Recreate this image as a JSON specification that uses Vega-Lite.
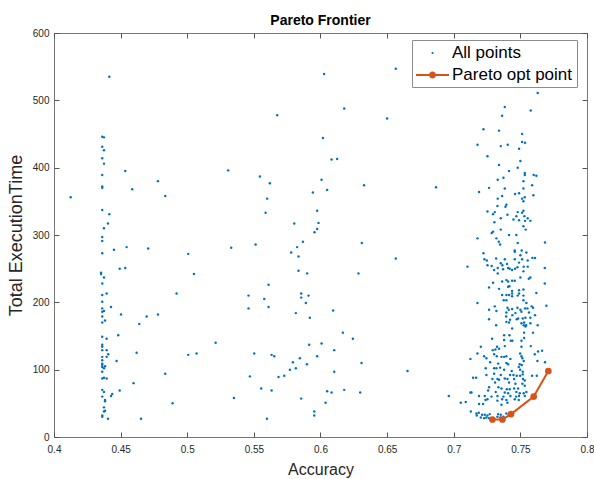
{
"$schema": "https://vega.github.io/schema/vega-lite/v6.json",
"width": 533, "height": 404,
"autosize": "none",
"padding": {"left": 54, "top": 33, "right": 7, "bottom": 42},
"background": "white",
"title": {"text": "Pareto Frontier", "fontSize": 14, "fontWeight": "bold", "font": "Liberation Sans", "color": "#000", "offset": 0, "anchor": "middle"},
"config": {
  "view": {"stroke": "#777", "strokeWidth": 1},
  "axis": {"grid": false, "domain": false, "tickSize": -5, "tickColor": "#555", "labelFont": "Liberation Sans", "labelFontSize": 10, "labelColor": "#262626", "titleFont": "Liberation Sans", "titleFontSize": 16, "titleFontWeight": "normal", "titleColor": "#262626", "labelFlush": false},
  "legend": {"orient": "none", "legendX": 358, "legendY": 7, "fillColor": "white", "strokeColor": "#8c8c8c", "padding": 4, "labelFont": "Liberation Sans", "labelFontSize": 17, "labelColor": "#000", "symbolSize": 324, "labelOffset": 18, "rowPadding": 5, "symbolStrokeWidth": 0, "symbolOpacity": 1}
},
"datasets": {
"pts": [
{"a":0.4415,"t":535},{"a":0.4362,"t":446},{"a":0.4375,"t":445},{"a":0.4362,"t":431},{"a":0.4375,"t":426},{"a":0.4362,"t":414},{"a":0.4375,"t":406},{"a":0.4362,"t":389},{"a":0.4535,"t":395},{"a":0.4362,"t":372},{"a":0.4362,"t":370},{"a":0.478,"t":380},{"a":0.4587,"t":368},{"a":0.4835,"t":358},{"a":0.4125,"t":356},{"a":0.5307,"t":396},{"a":0.4362,"t":337},{"a":0.4415,"t":331},{"a":0.4405,"t":317},{"a":0.4375,"t":310},{"a":0.4362,"t":297},{"a":0.4362,"t":291},{"a":0.4362,"t":273},{"a":0.445,"t":278},{"a":0.4545,"t":282},{"a":0.4707,"t":280},{"a":0.5007,"t":272},{"a":0.533,"t":281},
{"a":0.4493,"t":250},{"a":0.4535,"t":251},{"a":0.4353,"t":244},{"a":0.4353,"t":242},{"a":0.4375,"t":237},{"a":0.505,"t":242},{"a":0.4362,"t":228},{"a":0.4362,"t":211},{"a":0.4395,"t":213},{"a":0.492,"t":213},{"a":0.4362,"t":201},{"a":0.4362,"t":191},{"a":0.4428,"t":193},{"a":0.4362,"t":186},{"a":0.4375,"t":187},{"a":0.4503,"t":182},{"a":0.478,"t":182},{"a":0.4695,"t":179},{"a":0.4362,"t":179},{"a":0.4383,"t":173},{"a":0.4362,"t":170},{"a":0.464,"t":168},{"a":0.4362,"t":149},{"a":0.4395,"t":146},{"a":0.4482,"t":151},{"a":0.4362,"t":137},{"a":0.4362,"t":134},{"a":0.4362,"t":129},{"a":0.4395,"t":129},{"a":0.5213,"t":140},{"a":0.462,"t":125},{"a":0.5007,"t":122},{"a":0.507,"t":124},{"a":0.4407,"t":123},{"a":0.4395,"t":119},{"a":0.447,"t":113},{"a":0.4362,"t":119},{"a":0.4362,"t":114},{"a":0.4362,"t":109},{"a":0.4362,"t":107},{"a":0.4362,"t":104},{"a":0.4383,"t":105},{"a":0.4375,"t":102},{"a":0.4362,"t":97},{"a":0.4362,"t":87},{"a":0.4375,"t":88},{"a":0.4395,"t":87},{"a":0.4835,"t":94},{"a":0.4597,"t":80},{"a":0.4362,"t":70},{"a":0.4375,"t":67},{"a":0.4493,"t":69},{"a":0.4362,"t":60},{"a":0.4437,"t":64},{"a":0.4428,"t":61},{"a":0.4383,"t":53},{"a":0.4383,"t":55},{"a":0.489,"t":50},{"a":0.535,"t":58},{"a":0.4375,"t":44},{"a":0.4383,"t":39},{"a":0.4375,"t":38},{"a":0.4362,"t":32},{"a":0.4362,"t":30},{"a":0.4405,"t":27},{"a":0.4653,"t":27},
{"a":0.6027,"t":539},{"a":0.6565,"t":547},{"a":0.6178,"t":488},{"a":0.5675,"t":478},{"a":0.65,"t":473},{"a":0.6018,"t":444},{"a":0.6083,"t":412},{"a":0.6125,"t":413},{"a":0.5545,"t":387},{"a":0.562,"t":377},{"a":0.6008,"t":382},{"a":0.6327,"t":374},{"a":0.6867,"t":371},{"a":0.5943,"t":363},{"a":0.605,"t":367},{"a":0.56,"t":354},{"a":0.5588,"t":333},{"a":0.5975,"t":336},{"a":0.5803,"t":317},{"a":0.5985,"t":318},{"a":0.5975,"t":309},{"a":0.5955,"t":304},{"a":0.5868,"t":290},{"a":0.5513,"t":286},{"a":0.5825,"t":282},{"a":0.578,"t":274},{"a":0.5835,"t":268},{"a":0.631,"t":288},{"a":0.6565,"t":265},{"a":0.5835,"t":247},{"a":0.59,"t":243},{"a":0.6285,"t":243},{"a":0.561,"t":226},{"a":0.546,"t":210},{"a":0.5855,"t":213},{"a":0.5855,"t":207},{"a":0.591,"t":210},{"a":0.5578,"t":205},{"a":0.589,"t":199},{"a":0.546,"t":191},{"a":0.561,"t":193},{"a":0.6095,"t":188},{"a":0.5815,"t":184},{"a":0.592,"t":177},{"a":0.6168,"t":155},{"a":0.6243,"t":146},{"a":0.5915,"t":137},{"a":0.6008,"t":139},{"a":0.6103,"t":129},{"a":0.5503,"t":124},{"a":0.5633,"t":122},{"a":0.5653,"t":120},{"a":0.5975,"t":120},{"a":0.5845,"t":117},{"a":0.5793,"t":111},{"a":0.5898,"t":108},{"a":0.6308,"t":110},{"a":0.5815,"t":102},{"a":0.577,"t":100},{"a":0.6653,"t":98},{"a":0.6103,"t":97},{"a":0.547,"t":90},{"a":0.5685,"t":89},{"a":0.5728,"t":91},{"a":0.5555,"t":72},{"a":0.5633,"t":69},{"a":0.605,"t":68},{"a":0.6083,"t":66},{"a":0.6178,"t":70},{"a":0.6298,"t":66},{"a":0.5855,"t":57},{"a":0.6038,"t":51},{"a":0.5953,"t":38},{"a":0.5953,"t":32},{"a":0.5598,"t":27},
{"a":0.7103,"t":253},{"a":0.6963,"t":61},{"a":0.7053,"t":51},{"a":0.709,"t":52},{"a":0.7128,"t":38},{"a":0.7178,"t":434},{"a":0.7178,"t":295},{"a":0.719,"t":364},
{"a":0.763,"t":511},{"a":0.7383,"t":490},{"a":0.7578,"t":485},{"a":0.7363,"t":477},{"a":0.7223,"t":457},{"a":0.734,"t":455},{"a":0.7513,"t":450},{"a":0.7353,"t":432},{"a":0.7405,"t":434},{"a":0.7513,"t":438},{"a":0.7535,"t":437},{"a":0.749,"t":428},{"a":0.7253,"t":417},{"a":0.75,"t":410},{"a":0.734,"t":404},{"a":0.748,"t":400},{"a":0.7415,"t":395},{"a":0.7533,"t":392},{"a":0.7533,"t":389},{"a":0.76,"t":389},{"a":0.762,"t":388},{"a":0.7373,"t":385},{"a":0.733,"t":382},{"a":0.7523,"t":380},{"a":0.7588,"t":374},{"a":0.7265,"t":370},{"a":0.7383,"t":369},{"a":0.7523,"t":369},{"a":0.746,"t":361},{"a":0.749,"t":362},{"a":0.7363,"t":358},{"a":0.7533,"t":356},{"a":0.7598,"t":359},{"a":0.733,"t":354},{"a":0.7513,"t":354},{"a":0.7523,"t":350},{"a":0.7328,"t":343},{"a":0.7395,"t":345},{"a":0.7388,"t":342},{"a":0.7253,"t":335},{"a":0.7308,"t":334},{"a":0.7523,"t":336},{"a":0.748,"t":334},{"a":0.7513,"t":333},
{"a":0.7295,"t":331},{"a":0.7403,"t":330},{"a":0.747,"t":328},{"a":0.753,"t":328},{"a":0.7555,"t":325},{"a":0.7353,"t":325},{"a":0.7448,"t":323},{"a":0.749,"t":322},{"a":0.7535,"t":321},{"a":0.7575,"t":321},{"a":0.7305,"t":319},{"a":0.7523,"t":313},{"a":0.7353,"t":308},{"a":0.754,"t":308},{"a":0.7295,"t":305},{"a":0.7285,"t":303},{"a":0.7415,"t":300},{"a":0.747,"t":300},{"a":0.732,"t":295},{"a":0.7338,"t":290},{"a":0.7348,"t":286},{"a":0.748,"t":288},{"a":0.7685,"t":289},{"a":0.7458,"t":277},{"a":0.7458,"t":275},{"a":0.751,"t":277},{"a":0.7545,"t":274},{"a":0.7223,"t":273},{"a":0.75,"t":270},{"a":0.7318,"t":265},{"a":0.7383,"t":264},{"a":0.7458,"t":264},{"a":0.759,"t":266},{"a":0.761,"t":266},{"a":0.723,"t":264},{"a":0.7248,"t":262},{"a":0.7353,"t":258},{"a":0.74,"t":257},{"a":0.7513,"t":264},{"a":0.7555,"t":262},{"a":0.749,"t":259},{"a":0.7253,"t":255},{"a":0.7285,"t":254},{"a":0.7365,"t":255},{"a":0.7525,"t":253},{"a":0.7555,"t":253},{"a":0.733,"t":251},{"a":0.7408,"t":251},{"a":0.742,"t":250},{"a":0.746,"t":250},{"a":0.7478,"t":252},{"a":0.7303,"t":248},{"a":0.737,"t":249},{"a":0.7438,"t":248},{"a":0.7523,"t":246},{"a":0.7683,"t":251},{"a":0.733,"t":243},{"a":0.75,"t":237},{"a":0.7563,"t":235},{"a":0.7575,"t":237},{"a":0.7395,"t":233},{"a":0.7363,"t":231},{"a":0.7408,"t":231},{"a":0.7438,"t":232},{"a":0.7458,"t":232},{"a":0.7295,"t":229},{"a":0.7418,"t":224},{"a":0.7408,"t":223},{"a":0.7683,"t":228},{"a":0.7265,"t":222},{"a":0.734,"t":220},{"a":0.7438,"t":217},{"a":0.749,"t":218},{"a":0.7523,"t":219},{"a":0.762,"t":214},{"a":0.7438,"t":213},{"a":0.749,"t":213},{"a":0.748,"t":210},{"a":0.7363,"t":211},{"a":0.7395,"t":211},{"a":0.7415,"t":211},{"a":0.7438,"t":209},{"a":0.7523,"t":210},{"a":0.7375,"t":203},{"a":0.7395,"t":203},{"a":0.7523,"t":203},{"a":0.7545,"t":199},{"a":0.7178,"t":199},{"a":0.7478,"t":192},{"a":0.7308,"t":194},{"a":0.7265,"t":189},{"a":0.732,"t":187},{"a":0.7403,"t":192},{"a":0.7413,"t":189},{"a":0.7395,"t":185},{"a":0.7438,"t":190},{"a":0.75,"t":189},{"a":0.7535,"t":191},{"a":0.7553,"t":191},{"a":0.7585,"t":194},{"a":0.7595,"t":192},{"a":0.7695,"t":195},{"a":0.7463,"t":184},{"a":0.7508,"t":186},{"a":0.7565,"t":185},{"a":0.761,"t":181},{"a":0.7393,"t":179},{"a":0.744,"t":181},{"a":0.7483,"t":176},{"a":0.7265,"t":175},{"a":0.7473,"t":175},{"a":0.7518,"t":176},{"a":0.7538,"t":177},{"a":0.7423,"t":174},{"a":0.7575,"t":177},{"a":0.7395,"t":171},{"a":0.7415,"t":170},{"a":0.7528,"t":170},{"a":0.7508,"t":169},{"a":0.7575,"t":169},{"a":0.7318,"t":166},{"a":0.7438,"t":161},{"a":0.7525,"t":166},{"a":0.7543,"t":166},{"a":0.763,"t":166},{"a":0.7538,"t":164},
{"a":0.7595,"t":155},{"a":0.7378,"t":151},{"a":0.7418,"t":151},{"a":0.7528,"t":155},{"a":0.7288,"t":146},{"a":0.7378,"t":144},{"a":0.7428,"t":143},{"a":0.744,"t":143},{"a":0.7528,"t":147},{"a":0.7508,"t":143},{"a":0.7203,"t":134},{"a":0.7325,"t":134},{"a":0.7578,"t":135},{"a":0.7383,"t":135},{"a":0.7293,"t":129},{"a":0.7313,"t":130},{"a":0.734,"t":131},{"a":0.7508,"t":134},{"a":0.7633,"t":127},{"a":0.7663,"t":128},{"a":0.7125,"t":116},{"a":0.7178,"t":124},{"a":0.7228,"t":120},{"a":0.7245,"t":117},{"a":0.7303,"t":123},{"a":0.7323,"t":120},{"a":0.7358,"t":119},{"a":0.7378,"t":119},{"a":0.7395,"t":120},{"a":0.7425,"t":116},{"a":0.7498,"t":124},{"a":0.7508,"t":120},{"a":0.7515,"t":117},{"a":0.7525,"t":113},{"a":0.7608,"t":123},{"a":0.7685,"t":111},{"a":0.7628,"t":113},{"a":0.7273,"t":111},{"a":0.7333,"t":109},{"a":0.7395,"t":110},{"a":0.7408,"t":108},{"a":0.7495,"t":108},{"a":0.751,"t":107},{"a":0.724,"t":102},{"a":0.7303,"t":102},{"a":0.732,"t":102},{"a":0.7348,"t":103},{"a":0.7378,"t":100},{"a":0.7435,"t":98},{"a":0.7488,"t":104},{"a":0.7498,"t":100},{"a":0.7518,"t":97},{"a":0.7245,"t":92},{"a":0.7303,"t":94},{"a":0.7353,"t":92},{"a":0.7423,"t":92},{"a":0.7448,"t":92},{"a":0.7473,"t":91},{"a":0.7498,"t":91},{"a":0.7518,"t":93},{"a":0.7588,"t":91},{"a":0.7623,"t":91},{"a":0.7145,"t":88},{"a":0.7168,"t":88},{"a":0.729,"t":86},{"a":0.7328,"t":86},{"a":0.734,"t":85},{"a":0.7383,"t":87},{"a":0.7403,"t":86},{"a":0.7453,"t":86},{"a":0.752,"t":86},{"a":0.7533,"t":84},{"a":0.731,"t":81},{"a":0.7415,"t":81},{"a":0.7463,"t":79},{"a":0.7515,"t":79},{"a":0.7265,"t":74},{"a":0.7335,"t":74},{"a":0.7358,"t":72},{"a":0.7398,"t":71},{"a":0.742,"t":71},{"a":0.7453,"t":72},{"a":0.7483,"t":72},{"a":0.7533,"t":76},{"a":0.7125,"t":66},{"a":0.7133,"t":66},{"a":0.7258,"t":69},{"a":0.7315,"t":67},{"a":0.7383,"t":66},{"a":0.7408,"t":65},{"a":0.747,"t":67},{"a":0.7495,"t":65},{"a":0.7525,"t":65},{"a":0.7545,"t":67},{"a":0.719,"t":61},{"a":0.7233,"t":61},{"a":0.7283,"t":60},{"a":0.7328,"t":61},{"a":0.7373,"t":60},{"a":0.7425,"t":61},{"a":0.7468,"t":60},{"a":0.749,"t":61},{"a":0.7533,"t":61},{"a":0.7238,"t":55},{"a":0.7253,"t":56},{"a":0.7328,"t":54},{"a":0.7363,"t":56},{"a":0.7395,"t":55},{"a":0.7458,"t":56},{"a":0.7488,"t":55},{"a":0.7403,"t":51},{"a":0.719,"t":49},{"a":0.722,"t":49},{"a":0.7358,"t":48},{"a":0.717,"t":35},{"a":0.7188,"t":36},{"a":0.7213,"t":33},{"a":0.7233,"t":33},{"a":0.7253,"t":32},{"a":0.727,"t":34},{"a":0.7173,"t":32},{"a":0.7203,"t":29},{"a":0.7228,"t":28},{"a":0.7245,"t":29},{"a":0.7265,"t":28},{"a":0.7283,"t":27},{"a":0.7333,"t":34},{"a":0.7353,"t":33},{"a":0.7395,"t":35},{"a":0.7413,"t":33},{"a":0.7328,"t":30},{"a":0.735,"t":29},{"a":0.7373,"t":30}
],
"par": [
{"a":0.729,"t":26},{"a":0.7365,"t":26},{"a":0.743,"t":34},{"a":0.76,"t":60},{"a":0.771,"t":98}
]
},
"layer": [
{
  "data": {"name": "pts"},
  "mark": {"type": "point", "filled": true, "size": 6, "opacity": 1, "shape": "circle"},
  "encoding": {
    "x": {"field": "a", "type": "quantitative", "scale": {"domain": [0.4, 0.8], "nice": false, "zero": false},
      "axis": {"orient": "bottom", "values": [0.4,0.45,0.5,0.55,0.6,0.65,0.7,0.75,0.8], "format": ".2~f", "title": "Accuracy", "labelPadding": 12, "titlePadding": 7}},
    "y": {"field": "t", "type": "quantitative", "scale": {"domain": [0, 600], "nice": false, "zero": false},
      "axis": {"orient": "left", "values": [0,100,200,300,400,500,600], "title": "Total ExecutionTime", "titleFontSize": 18, "labelPadding": 10, "titlePadding": 7}},
    "color": {"datum": "All points", "type": "nominal",
      "scale": {"domain": ["All points", "Pareto opt point"], "range": ["#0072BD", "#D95319"]},
      "legend": {"title": null}}
  }
},
{
  "data": {"name": "par"},
  "mark": {"type": "line", "strokeWidth": 2, "point": {"filled": true, "size": 45, "opacity": 1}},
  "encoding": {
    "x": {"field": "a", "type": "quantitative", "axis": {"orient": "top", "values": [0.4,0.45,0.5,0.55,0.6,0.65,0.7,0.75,0.8], "labels": false, "title": null}},
    "y": {"field": "t", "type": "quantitative", "axis": {"orient": "right", "values": [0,100,200,300,400,500,600], "labels": false, "title": null}},
    "color": {"datum": "Pareto opt point", "type": "nominal", "legend": {"title": null}}
  }
},
{
  "data": {"name": "par"},
  "mark": {"type": "point", "filled": true, "opacity": 0},
  "encoding": {
    "x": {"field": "a", "type": "quantitative", "axis": null},
    "y": {"field": "t", "type": "quantitative", "axis": null},
    "color": {"datum": "All points", "type": "nominal", "legend": {"title": null}},
    "shape": {"datum": "All points", "type": "nominal",
      "scale": {"domain": ["All points", "Pareto opt point"], "range": ["M0.944,0A0.111,0.111 0 1,1 0.722,0A0.111,0.111 0 1,1 0.944,0Z", "M-1,-0.111L2.667,-0.111L2.667,0.111L-1,0.111Z M1.222,0A0.389,0.389 0 1,1 0.444,0A0.389,0.389 0 1,1 1.222,0Z"]},
      "legend": {"title": null}}
  }
}
],
"resolve": {"axis": {"x": "independent", "y": "independent"}}
}
